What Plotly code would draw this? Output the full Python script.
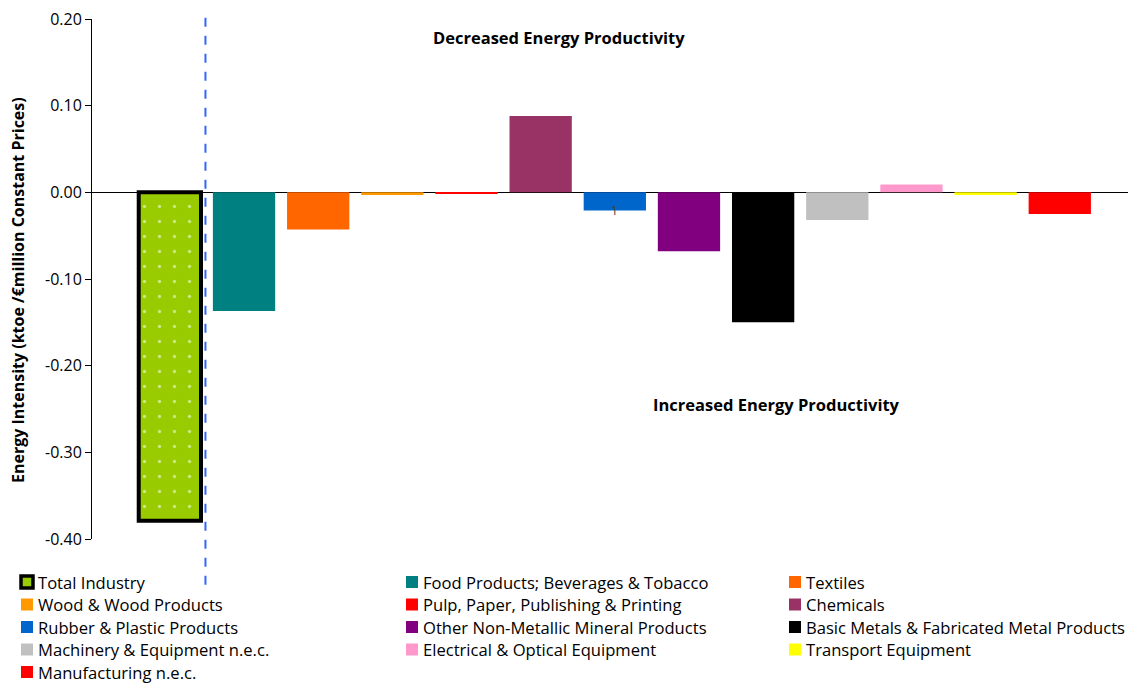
import plotly.graph_objects as go

# Sector categories and change in energy intensity (ktoe / €million, constant prices)
sectors = [
    "Total Industry",
    "Food Products; Beverages & Tobacco",
    "Textiles",
    "Wood & Wood Products",
    "Pulp, Paper, Publishing & Printing",
    "Chemicals",
    "Rubber & Plastic Products",
    "Other Non-Metallic Mineral Products",
    "Basic Metals & Fabricated Metal Products",
    "Machinery & Equipment n.e.c.",
    "Electrical & Optical Equipment",
    "Transport Equipment",
    "Manufacturing n.e.c.",
]
values = [-0.379, -0.137, -0.043, -0.003, -0.002, 0.088, -0.021,
          -0.068, -0.150, -0.032, 0.009, -0.003, -0.025]
colors = ["#99CC00", "#008080", "#FF6600", "#FF9900", "#FF0000", "#993366",
          "#0066CC", "#800080", "#000000", "#C0C0C0", "#FF99CC", "#FFFF00",
          "#FF0000"]
ytick_vals = [0.2, 0.1, 0.0, -0.1, -0.2, -0.3, -0.4]
ytick_text = ["0.20", "0.10", "0.00", "-0.10", "-0.20", "-0.30", "-0.40"]

FONT = "Open Sans"
W, H = 1130, 684
L, R, T, B = 92, 2, 19, 145
n = len(sectors)
pos = list(range(n))

fig = go.Figure()
# Total industry: dotted green bar with a heavy black outline
fig.add_trace(go.Bar(
    x=pos[:1], y=values[:1], width=0.84,
    marker=dict(
        color=colors[0],
        line=dict(color="black", width=4),
        pattern=dict(shape=".", fgcolor="white", bgcolor=colors[0],
                     size=15, solidity=0.04, fillmode="overlay"),
    ),
    showlegend=False, hovertext=sectors[:1],
))
# Individual sectors
fig.add_trace(go.Bar(
    x=pos[1:], y=values[1:], width=0.84,
    marker=dict(color=colors[1:], line=dict(width=0)),
    showlegend=False, hovertext=sectors[1:],
))

# Stray data label on the rubber & plastics bar
fig.add_annotation(x=6, y=values[6], text="1", showarrow=False,
                   yanchor="middle", yshift=0,
                   font=dict(family=FONT, size=12, color="#404040"))

# Divider between the total and the individual sectors
fig.add_shape(type="line", xref="x", yref="paper", x0=0.48, x1=0.48,
              y0=-0.088, y1=1.01,
              line=dict(color="#3366FF", width=2, dash="dash"))

fig.add_annotation(xref="paper", yref="paper", x=0.451, y=0.9635,
                   xanchor="center", yanchor="middle",
                   text="<b>Decreased Energy Productivity</b>", showarrow=False,
                   font=dict(family=FONT, size=16.5, color="black"))
fig.add_annotation(xref="paper", yref="paper", x=0.661, y=0.2596,
                   xanchor="center", yanchor="middle",
                   text="<b>Increased Energy Productivity</b>", showarrow=False,
                   font=dict(family=FONT, size=16.5, color="black"))

pw, ph = W - L - R, H - T - B

# Y-axis title
fig.add_annotation(xref="paper", yref="paper", x=(18 - L) / pw,
                   y=(H - B - 290) / ph, xanchor="center", yanchor="middle",
                   textangle=-90, showarrow=False,
                   text="<b>Energy Intensity (ktoe /€million Constant Prices)</b>",
                   font=dict(family=FONT, size=16, color="black"))

# Legend laid out in three columns beneath the plot
col_x = [21, 406, 789]
row_y0 = 582
row_dy = 22.5
sw = 12
for i, (name, c) in enumerate(zip(sectors, colors)):
    r, col = divmod(i, 3)
    cx = col_x[col]
    cy = row_y0 + r * row_dy
    x0p = (cx - L) / pw
    x1p = (cx + sw - L) / pw
    y0p = (H - B - (cy + sw / 2)) / ph
    y1p = (H - B - (cy - sw / 2)) / ph
    if i == 0:
        fig.add_shape(type="rect", xref="paper", yref="paper",
                      x0=x0p, x1=x1p, y0=y0p, y1=y1p,
                      fillcolor=c, line=dict(color="black", width=3.5))
    else:
        fig.add_shape(type="rect", xref="paper", yref="paper",
                      x0=x0p, x1=x1p, y0=y0p, y1=y1p,
                      fillcolor=c, line=dict(width=0))
    fig.add_annotation(xref="paper", yref="paper",
                       x=(cx + 15 - L) / pw, y=(H - B - cy) / ph,
                       xanchor="left", yanchor="middle", text=name,
                       showarrow=False,
                       font=dict(family=FONT, size=16.6, color="black"))

fig.update_layout(
    width=W, height=H,
    margin=dict(l=L, r=R, t=T, b=B),
    barmode="overlay",
    plot_bgcolor="white", paper_bgcolor="white",
    font=dict(family=FONT, color="black"),
    xaxis=dict(range=[-1.05, 12.92], showticklabels=False, showgrid=False,
               zeroline=False, showline=False, ticks=""),
    yaxis=dict(range=[-0.4, 0.2], tickvals=ytick_vals, ticktext=ytick_text,
               showgrid=False, zeroline=True, zerolinecolor="black",
               zerolinewidth=1, showline=True, linecolor="black", linewidth=1,
               ticks="outside", ticklen=6, tickcolor="black",
               tickfont=dict(family=FONT, size=16)),
)

fig.write_html("out.html")
